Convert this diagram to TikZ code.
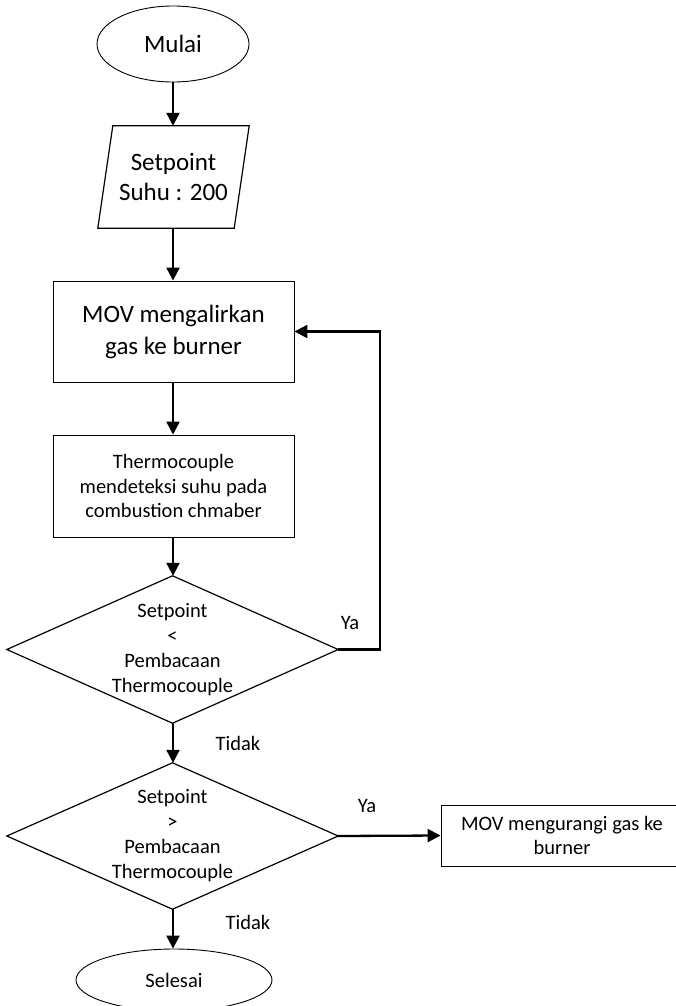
\documentclass[tikz,border=0pt]{standalone}
\usepackage{fontspec}
\setmainfont{Carlito}
\usetikzlibrary{arrows.meta,shapes.geometric,calc}
\begin{document}
\begin{tikzpicture}[x=1pt,y=-1pt,
  big/.style={font=\fontsize{25}{32}\selectfont},
  small/.style={font=\fontsize{20.5}{24.5}\selectfont},
  boxnode/.style={draw,line width=0.9pt,inner sep=0pt,align=center},
  term/.style={draw,ellipse,line width=0.9pt,inner sep=0pt},
  ghost/.style={inner sep=0pt,align=center},
  shapeline/.style={line width=1.2pt,line join=miter},
  arr/.style={line width=2.3pt,-{Triangle[length=13pt,width=13pt]}},
  lbl/.style={small,inner sep=0pt}]
\useasboundingbox (0,0) rectangle (675,1006);

\node[term,big,minimum width=152pt,minimum height=76pt] (mulai) at (173,44) {Mulai};

\node[ghost,minimum width=151pt,minimum height=102pt,font=\fontsize{25}{30}\selectfont] (setp) at (173.5,177) {Setpoint\\Suhu : 200};
\draw[shapeline] ($(setp.north west)+(15,0)$) -- (setp.north east) -- ($(setp.south east)+(-15,0)$) -- (setp.south west) -- cycle;

\node[boxnode,big,minimum width=241pt,minimum height=101pt] (mov1) at (173.5,331.5) {MOV mengalirkan\\gas ke burner};

\node[boxnode,small,minimum width=241pt,minimum height=102pt] (thermo) at (173.5,486) {Thermocouple\\mendeteksi suhu pada\\combustion chmaber};

\node[ghost,small,minimum width=331pt,minimum height=147pt,font=\fontsize{20.5}{25}\selectfont] (d1) at (172.5,649.5) {Setpoint\\<\\Pembacaan\\Thermocouple};
\draw[shapeline] (d1.north) -- (d1.east) -- (d1.south) -- (d1.west) -- cycle;

\node[ghost,small,minimum width=331pt,minimum height=146pt,font=\fontsize{20.5}{25}\selectfont] (d2) at (172.5,836) {Setpoint\\>\\Pembacaan\\Thermocouple};
\draw[shapeline] (d2.north) -- (d2.east) -- (d2.south) -- (d2.west) -- cycle;

\node[boxnode,small,minimum width=242pt,minimum height=61pt] (mov2) at (562,835.5) {MOV mengurangi gas ke\\burner};

\node[term,small,minimum width=196pt,minimum height=62pt] (sel) at (174,980) {Selesai};

\coordinate (loopc) at (380,649.5);

\draw[arr] (mulai.south) -- (setp.north -| mulai.south);
\draw[arr] (setp.south -| mulai.south) -- (mov1.north -| mulai.south);
\draw[arr] (mov1.south -| mulai.south) -- (thermo.north -| mulai.south);
\draw[arr] (thermo.south -| mulai.south) -- (d1.north -| mulai.south);
\draw[arr] (d1.east) -- (loopc) |- (mov1.east);
\draw[arr] (d1.south -| mulai.south) -- (d2.north -| mulai.south);
\draw[arr] (d2.east) -- (mov2.west);
\draw[arr] (d2.south -| mulai.south) -- (sel.north -| mulai.south);

\node[lbl] (ya1) at (350,623) {Ya};
\node[lbl] (tidak1) at (238,743) {Tidak};
\node[lbl] (ya2) at (367,806) {Ya};
\node[lbl] (tidak2) at (248,922) {Tidak};
\end{tikzpicture}
\end{document}
